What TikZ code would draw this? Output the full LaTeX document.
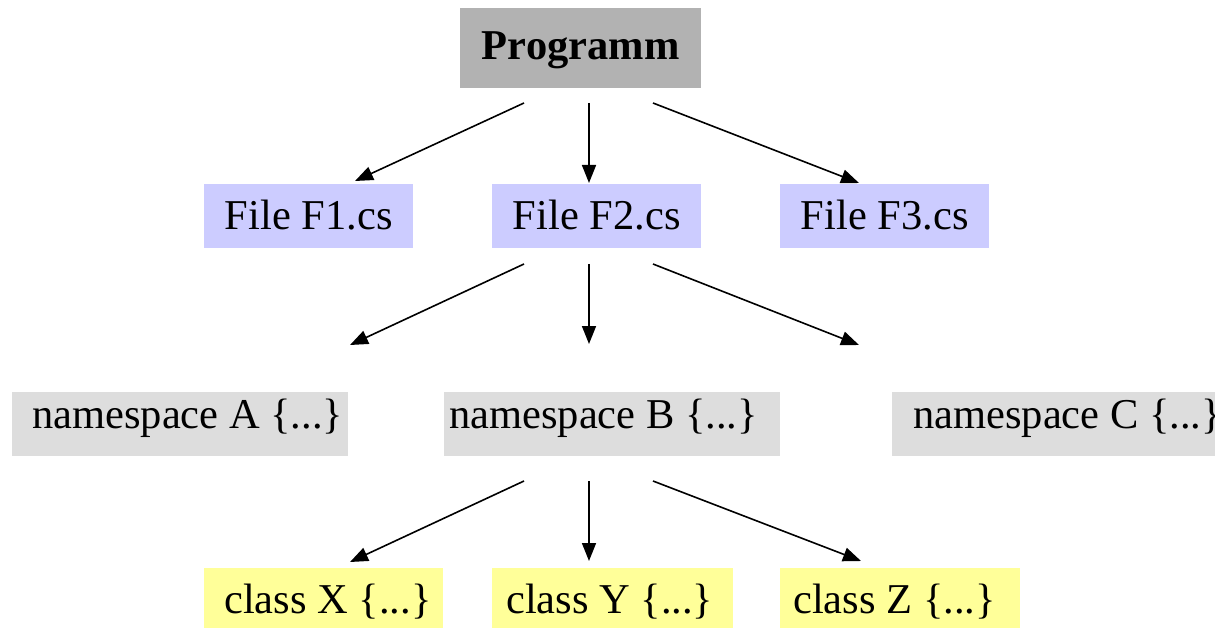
\documentclass[tikz,border=0pt]{standalone}
\usepackage{fontspec}
\setmainfont{Liberation Serif}
\usetikzlibrary{arrows.meta}
\definecolor{progfill}{HTML}{B2B2B2}
\definecolor{filefill}{HTML}{CCCCFF}
\definecolor{nsfill}{HTML}{DDDDDD}
\definecolor{clsfill}{HTML}{FFFF99}
\begin{document}
\begin{tikzpicture}[x=1pt,y=-1pt,
  box/.style={rectangle, inner sep=0pt, font=\fontsize{42.5}{50}\selectfont},
  progbox/.style={box, fill=progfill, text height=51pt, text depth=29pt, font=\fontsize{42.5}{50}\selectfont\bfseries},
  filebox/.style={box, fill=filefill, minimum width=209pt, text height=45pt, text depth=19pt},
  nsbox/.style={box, fill=nsfill, text height=36pt, text depth=28pt},
  clsbox/.style={box, fill=clsfill, text height=45pt, text depth=15pt},
  conn/.style={line width=1.6pt, -{Triangle[length=18pt,width=14pt]}}
]
\clip (0,0) rectangle (1215,628);
\fill[white] (0,0) rectangle (1215,628);

\node[progbox, anchor=north west] (prog) at (460,8) {\makebox[241pt][c]{Programm}};

\node[filebox, anchor=north west] (f1) at (204,184) {\makebox[209pt][c]{File F1.cs}};
\node[filebox, anchor=north west] (f2) at (492,184) {\makebox[209pt][c]{File F2.cs}};
\node[filebox, anchor=north west] (f3) at (780,184) {\makebox[209pt][c]{File F3.cs}};

\node[nsbox, anchor=north west] (nsa) at (12,392) {\makebox[336pt][l]{\hspace{20pt}namespace A \{...\}}};
\node[nsbox, anchor=north west] (nsb) at (444,392) {\makebox[336pt][l]{\hspace{5pt}namespace B \{...\}}};
\node[nsbox, anchor=north west] (nsc) at (892,392) {\makebox[338pt][l]{\hspace{21pt}namespace C \{...\}}};

\node[clsbox, anchor=north west] (cx) at (204,568) {\makebox[239pt][l]{\hspace{20pt}class X \{...\}}};
\node[clsbox, anchor=north west] (cy) at (492,568) {\makebox[241pt][l]{\hspace{14pt}class Y \{...\}}};
\node[clsbox, anchor=north west] (cz) at (780,568) {\makebox[240pt][l]{\hspace{13pt}class Z \{...\}}};

% connector end points
\coordinate (p1s) at (524,103); \coordinate (p1e) at (355,181);
\coordinate (p2s) at (589,103); \coordinate (p2e) at (589,183);
\coordinate (p3s) at (653,103); \coordinate (p3e) at (859,183);

\coordinate (f1s) at (524,264); \coordinate (f1e) at (350,345);
\coordinate (f2s) at (589,264); \coordinate (f2e) at (589,344);
\coordinate (f3s) at (653,264); \coordinate (f3e) at (859,345);

\coordinate (n1s) at (524,481); \coordinate (n1e) at (350,562);
\coordinate (n2s) at (589,481); \coordinate (n2e) at (589,561);
\coordinate (n3s) at (653,481); \coordinate (n3e) at (861,561);

\draw[conn] (p1s) -- (p1e);
\draw[conn] (p2s) -- (p2e);
\draw[conn] (p3s) -- (p3e);
\draw[conn] (f1s) -- (f1e);
\draw[conn] (f2s) -- (f2e);
\draw[conn] (f3s) -- (f3e);
\draw[conn] (n1s) -- (n1e);
\draw[conn] (n2s) -- (n2e);
\draw[conn] (n3s) -- (n3e);
\end{tikzpicture}
\end{document}
